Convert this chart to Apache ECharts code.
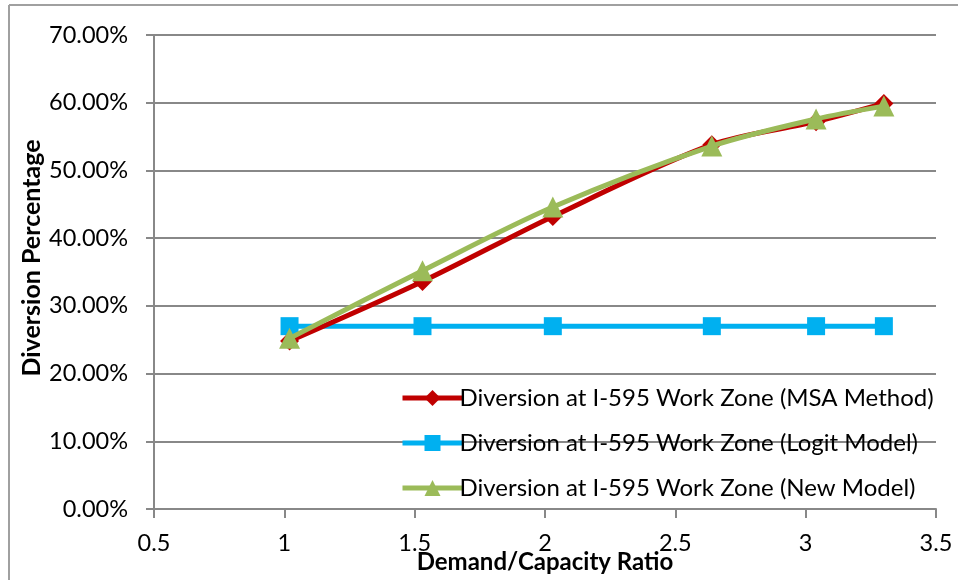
<!DOCTYPE html>
<html>
<head>
<meta charset="utf-8">
<script src="https://cdn.jsdelivr.net/npm/echarts@6/dist/echarts.min.js"></script>
<style>html,body{margin:0;padding:0;background:#fff}#c{width:958px;height:580px}</style>
</head>
<body>
<div id="c"></div>
<script>
var xValues = [1.02, 1.53, 2.03, 2.64, 3.04, 3.30];
var msaValues = [24.8, 33.6, 43.2, 53.8, 57.2, 59.9];
var logitValues = [27.0, 27.0, 27.0, 27.0, 27.0, 27.0];
var newValues = [25.2, 35.2, 44.6, 53.6, 57.6, 59.5];
var seriesNames = [
  'Diversion at I-595 Work Zone (MSA Method)',
  'Diversion at I-595 Work Zone (Logit Model)',
  'Diversion at I-595 Work Zone (New Model)'
];
var xTicks = [0.5, 1, 1.5, 2, 2.5, 3, 3.5];
var FONT = 'Lato';
var FS = 23.5;

function pairs(ys) { return xValues.map(function (x, i) { return [x, ys[i]]; }); }

var chart = echarts.init(document.getElementById('c'), null, { renderer: 'canvas' });
chart.setOption({
  animation: false,
  backgroundColor: '#fff',
  textStyle: { fontFamily: FONT },
  graphic: [
    { type: 'line', shape: { x1: 9, y1: 5, x2: 9, y2: 580 }, style: { stroke: '#a0a0a0', lineWidth: 2 } },
    { type: 'line', shape: { x1: 9, y1: 5, x2: 958, y2: 5 }, style: { stroke: '#a0a0a0', lineWidth: 2 } }
  ],
  grid: { left: 154, right: 22, top: 35, bottom: 71, containLabel: false, outerBoundsMode: 'none' },
  xAxis: {
    type: 'value', min: 0.5, max: 3.5, interval: 0.5,
    name: 'Demand/Capacity Ratio', nameLocation: 'middle', nameGap: 41, nameMoveOverlap: false,
    nameTextStyle: { fontFamily: FONT, fontWeight: 'bold', fontSize: 24, color: '#000' },
    axisLine: { show: true, lineStyle: { color: '#888', width: 2 } },
    axisTick: { show: true, length: 9, lineStyle: { color: '#888', width: 2 } },
    axisLabel: { fontFamily: FONT, fontSize: FS, color: '#000', margin: 22,
      formatter: function (v) { return xTicks.indexOf(v) >= 0 ? String(v) : ''; } },
    splitLine: { show: false }
  },
  yAxis: {
    type: 'value', min: 0, max: 70, interval: 10,
    name: 'Diversion Percentage', nameLocation: 'middle', nameGap: 110, nameMoveOverlap: false,
    nameTextStyle: { fontFamily: FONT, fontWeight: 'bold', fontSize: 25, color: '#000', padding: [0, 0, 0, 28] },
    axisLine: { show: true, lineStyle: { color: '#888', width: 2 } },
    axisTick: { show: true, length: 8, lineStyle: { color: '#888', width: 2 } },
    axisLabel: { fontFamily: FONT, fontSize: FS, color: '#000', margin: 26,
      formatter: function (v) { return v.toFixed(2) + '%'; } },
    splitLine: { show: true, lineStyle: { color: '#888', width: 2 } }
  },
  legend: {
    orient: 'vertical', left: 395, top: 381,
    itemWidth: 60, itemHeight: 20, itemGap: 21,
    lineStyle: { width: 5 },
    textStyle: { fontFamily: FONT, fontSize: 24, color: '#000', padding: [0, 0, 0, -8] },
    data: seriesNames
  },
  series: [
    {
      name: seriesNames[1], type: 'line', data: pairs(logitValues),
      smooth: 0.3, symbol: 'rect', symbolSize: 18,
      lineStyle: { color: '#00B0F0', width: 5 }, itemStyle: { color: '#00B0F0' }, z: 2
    },
    {
      name: seriesNames[0], type: 'line', data: pairs(msaValues),
      smooth: 0.3, symbol: 'diamond', symbolSize: 19,
      lineStyle: { color: '#C00000', width: 5 }, itemStyle: { color: '#C00000' }, z: 3
    },
    {
      name: seriesNames[2], type: 'line', data: pairs(newValues),
      smooth: 0.3, symbol: 'triangle', symbolSize: 21,
      lineStyle: { color: '#9BBB59', width: 5 }, itemStyle: { color: '#9BBB59' }, z: 4
    }
  ]
});
</script>
</body>
</html>
